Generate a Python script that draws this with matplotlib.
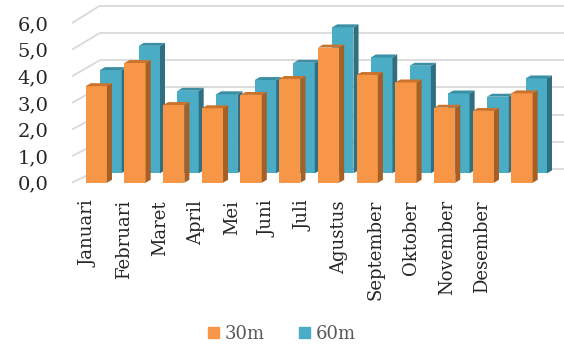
import numpy as np
import matplotlib
matplotlib.use("Agg")
import matplotlib.pyplot as plt
from matplotlib.patches import Polygon, Patch

months = ["Januari", "Februari", "Maret", "April", "Mei", "Juni", "Juli",
          "Agustus", "September", "Oktober", "November", "Desember"]
depth_30m = [3.63, 4.50, 2.92, 2.80, 3.30, 3.90, 5.08, 4.05, 3.77, 2.82, 2.70, 3.36]
depth_60m = [3.84, 4.74, 3.07, 2.94, 3.47, 4.11, 5.43, 4.31, 4.00, 2.97, 2.85, 3.53]
y_ticks = [0, 1, 2, 3, 4, 5, 6]

ORANGE = ("#F79646", "#A65F24", "#CB732C")   # front, side, top
BLUE = ("#4BACC6", "#2F6F80", "#3A8FA5")

# fake 3d geometry (in data units)
BAR_W = 0.55
SIDE_DX, SIDE_DY = 0.13, 0.11
ROW2_DX, ROW2_DY, ROW2_SCALE = 0.37, 0.353, 1.011
WALL_DX, WALL_DY, WALL_SCALE = 0.72, 0.515, 1.023
X_LEFT, X_RIGHT = -0.628, 12.085


def draw_bars(ax, xs, values, bottom, scale, colors, z):
    tops = bottom + np.asarray(values) * scale
    ax.bar(xs, tops - bottom, BAR_W, bottom=bottom, color=colors[0],
           zorder=z, linewidth=0)
    for x, t in zip(xs, tops):
        r = x + BAR_W / 2
        l = x - BAR_W / 2
        side = [(r, bottom), (r + SIDE_DX, bottom + SIDE_DY),
                (r + SIDE_DX, t + SIDE_DY), (r, t)]
        top = [(l, t), (r, t), (r + SIDE_DX, t + SIDE_DY), (l + SIDE_DX, t + SIDE_DY)]
        ax.add_patch(Polygon(side, closed=True, fc=colors[1], lw=0, zorder=z))
        ax.add_patch(Polygon(top, closed=True, fc=colors[2], lw=0, zorder=z))


def draw_walls(ax):
    for v in y_ticks:
        yb = v * WALL_SCALE + WALL_DY
        ax.plot([X_LEFT, X_LEFT + WALL_DX], [v, yb], color="#D9D9D9", lw=1.3,
                zorder=0, clip_on=False, solid_capstyle="butt")
        ax.plot([X_LEFT + WALL_DX, X_RIGHT], [yb, yb], color="#D9D9D9", lw=1.3,
                zorder=0, clip_on=False, solid_capstyle="butt")


fig = plt.figure(figsize=(5.64, 3.49), dpi=100)
ax = fig.add_axes([72 / 564, (349 - 182.7) / 349, (564 - 72) / 564, 182.7 / 349])

x = np.arange(len(months))
draw_walls(ax)
draw_bars(ax, x + ROW2_DX, depth_60m, ROW2_DY, ROW2_SCALE, BLUE, 2)
draw_bars(ax, x, depth_30m, 0.0, 1.0, ORANGE, 3)

ax.set_xlim(X_LEFT, X_RIGHT)
ax.set_ylim(0, 182.7 / 26.6)
for s in ax.spines.values():
    s.set_visible(False)

ax.set_yticks(y_ticks)
ax.set_yticklabels([f"{v:.1f}".replace(".", ",") for v in y_ticks],
                   fontsize=14, family="DejaVu Serif", color="#262626")
ax.tick_params(axis="y", length=0, pad=17)

ax.set_xticks(-0.196 + 0.925 * x)
ax.set_xticklabels(months, rotation=90, fontsize=13, family="DejaVu Serif",
                   color="#262626", va="top", ha="center")
ax.tick_params(axis="x", length=0, pad=12.5)

handles = [Patch(color=ORANGE[0], label="30m"), Patch(color=BLUE[0], label="60m")]
fig.legend(handles=handles, loc="center", bbox_to_anchor=(0.5, 15 / 349), ncol=2,
           frameon=False, prop={"family": "DejaVu Serif", "size": 13},
           labelcolor="#595959", handlelength=0.6, handleheight=0.6,
           handletextpad=0.3, columnspacing=1.9)

fig.savefig("out.png", dpi=100, facecolor="white")
